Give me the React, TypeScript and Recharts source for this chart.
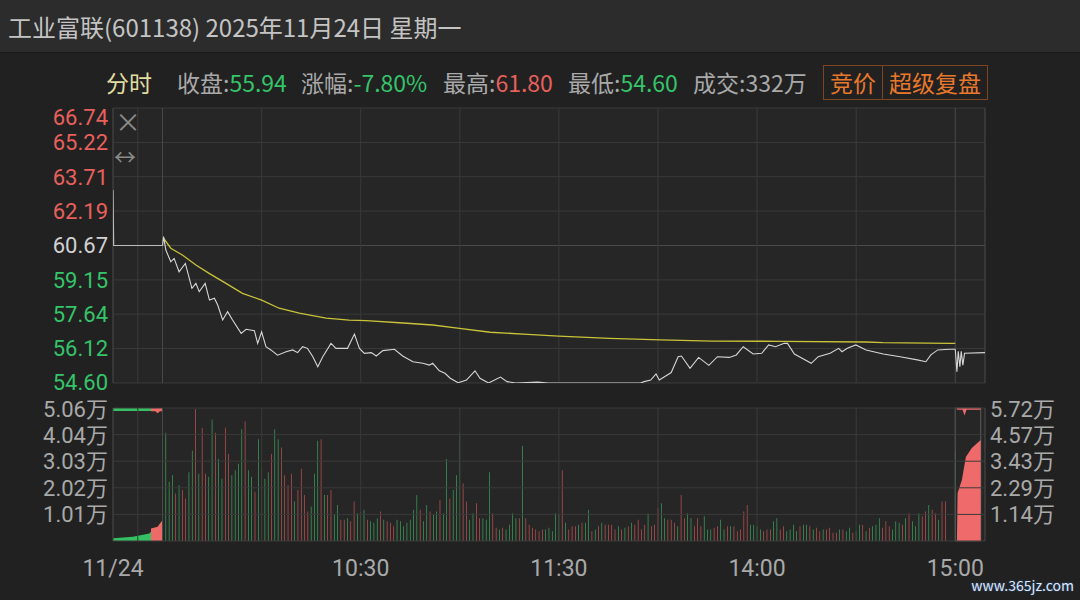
import React from "react";
import {
  ComposedChart,
  Line,
  Bar,
  Area,
  Cell,
  XAxis,
  YAxis,
  ReferenceLine,
  ReferenceArea,
} from "recharts";

const FONT = '"Noto Sans CJK SC", "Noto Sans", sans-serif';
const AXIS_FAMILY = 'Roboto, "Noto Sans CJK SC", sans-serif';
const AXIS_FONT = 22;
const BG = "#212121";
const PLOT_BG = "#262626";
const GRID = "#3a3a3a";
const GRID_HI = "#4a4a4a";
const RED = "#e8605c";
const GREEN = "#35c46a";
const NEUTRAL = "#d2d2d2";
const LABEL = "#a9a9a9";
const BAR_RED = "#e25b5b";
const BAR_GREEN = "#3dbb66";

// minute index: 0 = 9:30, 120 = 11:30 / 13:00, 240 = 15:00
// -15..0 is the opening call auction, 240..249 the closing call auction
const X_DOMAIN: [number, number] = [-15, 249];
const timeTicks = [-15, 60, 120, 180, 240];
const timeLabels = ["11/24", "10:30", "11:30", "14:00", "15:00"];
const gridMinutes = [-7.5, 30, 60, 90, 120, 150, 180, 210];
const sessionEdges = [-15, 0, 240, 249];

const prevClose = 60.67;
const priceTicks = [54.6, 56.12, 57.64, 59.15, 60.67, 62.19, 63.71, 65.22, 66.74];
const pctTicks = [-10, -7.5, -5, -2.5, 0, 2.5, 5, 7.5, 10];

const priceMin = [
  0, 0.3, 1, 2.5, 3.5, 5, 6.9, 8.9, 10.1, 11.1,
  12.9, 14.2, 15.7, 16.7, 18.2, 19.7, 21.2, 23.8, 25.3, 27.8,
  28.8, 30, 31.3, 32.8, 34.8, 37.4, 39.4, 40.9, 42.4, 43.9,
  45.5, 47, 48.5, 51, 52.5, 56, 58.1, 59.6, 61.1, 63.2,
  64.7, 66.7, 70.2, 72.7, 75.8, 78.8, 80.8, 81.8, 83.8, 85.5,
  87.1, 89.5, 92, 94.6, 96.1, 98.7, 102.3, 104.3, 106.9, 113.6,
  116.7, 144.7, 145.8, 147.8, 149.4, 150.4, 154, 156.1, 157.1, 159.7,
  162.3, 165.4, 168, 171.6, 173.7, 175.8, 178.8, 181.4, 183.5, 185.6,
  188.2, 189.2, 191.3, 196.4, 198.5, 202.1, 204.7, 205.7, 207.3, 209.9,
  213, 218.2, 223.3, 228.5, 231.1, 232.6, 234.7, 238.3, 240,
];
const priceVal = [
  60.67, 61.06, 60.47, 59.95, 60.1, 59.51, 59.88, 58.78, 59.0, 58.63,
  59.0, 58.26, 58.34, 58.04, 57.38, 57.75, 57.38, 56.79, 56.97, 56.91,
  56.35, 56.86, 56.2, 56.06, 55.83, 55.98, 56.06, 55.94, 56.2, 56.13,
  55.76, 55.32, 55.76, 56.35, 56.13, 56.13, 56.76, 56.13, 55.91, 55.94,
  55.79, 56.03, 56.09, 55.79, 55.54, 55.47, 55.39, 55.47, 55.14, 55.03,
  54.81, 54.61, 54.73, 55.14, 54.81, 54.6, 54.86, 54.66, 54.6, 54.64,
  54.6, 54.6, 54.66, 54.73, 55.0, 54.73, 55.06, 55.76, 55.79, 55.25,
  55.73, 55.38, 55.76, 55.73, 55.84, 56.2, 55.88, 55.91, 56.28, 56.2,
  56.35, 56.35, 55.88, 55.47, 55.76, 55.91, 56.13, 55.98, 56.13, 56.28,
  56.06, 55.88, 55.76, 55.62, 55.54, 55.84, 56.06, 56.09, 56.09,
];

const avgMin = [
  0.3, 2.5, 6, 10.1, 14.1, 19.2, 24.2, 30, 35.3, 41.4, 49.5, 56.5, 61.6, 71.7,
  81.8, 89.9, 99.2, 110.5, 119.9, 135.3, 150.8, 166.4, 187.1, 212.9, 218.1, 238.4, 240,
];
const avgVal = [
  60.99, 60.55, 60.25, 59.81, 59.44, 59.0, 58.56, 58.26, 57.9, 57.68, 57.46, 57.38, 57.35, 57.26,
  57.16, 57.01, 56.84, 56.75, 56.67, 56.57, 56.5, 56.45, 56.44, 56.41, 56.38, 56.35, 56.35,
];

const openAucMin = [-15, -14.8, 0];
const openAucPrice = [63.12, 60.67, 60.67];
const closeAucMin = [240, 240.5, 240.9, 241.4, 241.8, 242.3, 242.8, 249];
const closeAucPrice = [56.09, 55.1, 56.0, 55.32, 56.0, 55.39, 55.91, 55.94];

// volume, in 万 shares, one bar per minute from 9:31 (m=1) to 15:00 (m=240)
const vol = [
  4.12, 2.25, 2.5, 1.81, 2.12, 1.94, 1.62, 2.62, 3.43, 5.02,
  2.56, 4.31, 2.56, 2.44, 4.62, 4.12, 3.12, 2.37, 4.31, 3.31,
  2.5, 2.69, 2.94, 4.25, 4.56, 2.69, 2.44, 1.87, 3.87, 2.81,
  2.37, 2.62, 3.31, 4.25, 3.87, 3.56, 2.5, 2.12, 2.56, 1.5,
  1.94, 2.75, 1.75, 1.12, 1.31, 2.56, 3.81, 3.87, 1.75, 1.75,
  1.94, 1.0, 1.37, 0.81, 0.81, 0.87, 0.75, 1.5, 1.06, 1.12,
  1.19, 0.81, 0.75, 0.69, 0.87, 1.12, 0.81, 0.75, 0.69, 0.56,
  0.81, 0.75, 0.56, 0.69, 0.81, 1.19, 1.75, 1.19, 0.75, 1.37,
  1.12, 1.0, 1.12, 1.56, 1.06, 3.12, 1.62, 1.94, 2.5, 4.12,
  2.19, 1.5, 0.81, 1.06, 1.44, 0.87, 0.87, 0.81, 2.62, 1.06,
  0.5, 0.44, 0.5, 0.44, 0.62, 1.06, 0.87, 0.87, 3.62, 0.87,
  0.62, 0.5, 0.44, 0.37, 0.44, 0.44, 0.5, 0.37, 1.06, 1.0,
  2.69, 0.69, 0.44, 0.56, 0.56, 0.62, 0.69, 0.69, 1.19, 0.37,
  0.44, 0.56, 0.69, 0.62, 0.62, 0.62, 0.44, 0.56, 0.44, 0.5,
  0.56, 0.69, 0.62, 0.81, 0.44, 0.62, 1.06, 0.56, 0.62, 1.25,
  1.44, 0.87, 0.81, 0.81, 0.69, 0.56, 1.75, 0.87, 1.06, 0.87,
  0.56, 0.87, 0.56, 0.94, 0.44, 0.44, 0.5, 0.56, 0.81, 0.44,
  0.56, 0.56, 0.56, 0.37, 0.44, 1.12, 1.37, 0.62, 0.62, 0.56,
  0.44, 0.37, 0.44, 0.44, 0.75, 0.87, 0.44, 0.56, 0.37, 0.44,
  0.62, 0.37, 0.56, 0.62, 0.62, 0.56, 0.44, 0.5, 0.37, 0.44,
  0.44, 0.5, 0.31, 0.31, 0.44, 0.44, 0.37, 0.5, 0.31, 0.37,
  0.62, 0.62, 0.37, 0.5, 0.56, 0.62, 0.87, 0.5, 0.75, 0.56,
  0.44, 0.75, 0.69, 0.62, 0.87, 1.06, 0.75, 0.56, 1.06, 0.94,
  1.12, 1.37, 1.19, 1.06, 0.81, 1.5, 1.5, 0, 0, 3.4,
];
// R = up minute, G = down minute
const volDir = (
  "GGGRGRRGGR" + "GRRGGRGGRR" + "GGGGRGGRGR" + "GGRGGRRRRG" + "RRRRGGGRGR" + "RGGRRGRRGG" +
  "GRGGGRGRRR" + "GGGGGGGRGG" + "RGGRGGRGGG" + "RRGGRRGGGR" + "RGRGGGGRGR" + "RRRRRGGGGG" +
  "RGRRRGRGGR" + "GRGRRRRGRG" + "RGRRRRGRRR" + "GGRRRGRRGG" + "RRRGGGRRGG" + "RGRRRRRGGG" +
  "GRRRGGRRGG" + "GGRGGRGRRG" + "RRRRGRGGRG" + "GRGRGGGRRR" + "GGGRGRGGGR" + "RGRRGRRGGG"
).split("");

// opening auction matched volume (万, left scale)
const openVolMinG = [-15, -9, -4, -3.5];
const openVolG = [0.1, 0.16, 0.29, 0.35];
const openVolMinR = [-3.5, -1.5, 0];
const openVolR = [0.48, 0.54, 0.8];
// opening auction unmatched volume, drawn from the top
const openTopMinG = [-15, -3.5];
const openTopG = [0.11, 0.11];
const openTopMinR = [-3.5, -2.2, -1.5, -0.8, 0];
const openTopR = [0.12, 0.12, 0.2, 0.12, 0.12];
// closing auction (万, right scale)
const closeVolMin = [240.5, 240.7, 242, 243.2, 245, 247.7];
const closeVol = [0, 2.06, 2.62, 3.61, 4.0, 4.34];
const closeTopMin = [240.5, 242.2, 242.8, 243.4, 247.7];
const closeTop = [0.07, 0.07, 0.32, 0.07, 0.07];

const volTicks = [10120, 20240, 30360, 40480, 50600];
const volLabels = ["1.01万", "2.02万", "3.03万", "4.04万", "5.06万"];
const aucVolTicks = [11440, 22880, 34320, 45760, 57200];
const aucVolLabels = ["1.14万", "2.29万", "3.43万", "4.57万", "5.72万"];

type Row = { m: number; [k: string]: number | string };

function buildRows(series: [string, number[], (number | string)[]][]): Row[] {
  const map = new Map<number, Row>();
  series.forEach(([key, xs, ys]) => {
    xs.forEach((m, i) => {
      const row = map.get(m) ?? { m };
      row[key] = ys[i];
      map.set(m, row);
    });
  });
  return Array.from(map.values()).sort((a, b) => a.m - b.m);
}

const wan = (a: number[]) => a.map((v) => v * 10000);
const minutes = vol.map((_, i) => i + 1);

const priceData = buildRows([
  ["price", priceMin, priceVal],
  ["avg", avgMin, avgVal],
  ["oa", openAucMin, openAucPrice],
  ["ca", closeAucMin, closeAucPrice],
]);

const volData = buildRows([
  ["vol", minutes, wan(vol)],
  ["dir", minutes, volDir],
  ["aucG", openVolMinG, wan(openVolG)],
  ["aucR", openVolMinR, wan(openVolR)],
  ["topG", openTopMinG, wan(openTopG)],
  ["topR", openTopMinR, wan(openTopR)],
  ["cVol", closeVolMin, wan(closeVol)],
  ["cTop", closeTopMin, wan(closeTop)],
]);

const tone = (d: number) => (d > 0.001 ? RED : d < -0.001 ? GREEN : NEUTRAL);

// the top label sits just under the top border, the bottom one a hair above it
const edgeShift = (i: number, n: number) => (i === n - 1 ? 9 : i === 0 ? -1 : 0);

function PriceTick(props: any) {
  const v: number = props.payload.value;
  const i = priceTicks.indexOf(v);
  return (
    <text x={108} y={props.y + edgeShift(i, priceTicks.length)} dy="0.36em" textAnchor="end" fontSize={AXIS_FONT} fontFamily={AXIS_FAMILY} fill={tone(v - prevClose)}>
      {v.toFixed(2)}
    </text>
  );
}

function PctTick(props: any) {
  const v: number = props.payload.value;
  const i = pctTicks.indexOf(v);
  return (
    <text x={990} y={props.y + edgeShift(i, pctTicks.length)} dy="0.36em" textAnchor="start" fontSize={AXIS_FONT} fontFamily={AXIS_FAMILY} fill={tone(v)}>
      {Math.abs(v).toFixed(2) + "%"}
    </text>
  );
}

function VolTick(props: any) {
  const i = volTicks.indexOf(props.payload.value);
  return (
    <text x={108} y={props.y + (i === volTicks.length - 1 ? 1 : 0)} dy="0.36em" textAnchor="end" fontSize={AXIS_FONT} fontFamily={AXIS_FAMILY} fill={LABEL}>
      {volLabels[i]}
    </text>
  );
}

function AucVolTick(props: any) {
  const i = aucVolTicks.indexOf(props.payload.value);
  return (
    <text x={990} y={props.y + (i === aucVolTicks.length - 1 ? 1 : 0)} dy="0.36em" textAnchor="start" fontSize={AXIS_FONT} fontFamily={AXIS_FAMILY} fill={LABEL}>
      {aucVolLabels[i]}
    </text>
  );
}

function TimeTick(props: any) {
  const i = timeTicks.indexOf(props.payload.value);
  return (
    <text x={props.x} y={568} dy="0.36em" textAnchor="middle" fontSize={23} fontFamily={AXIS_FAMILY} fill={LABEL}>
      {timeLabels[i]}
    </text>
  );
}

const txt = (left: number, top: number, size: number): React.CSSProperties => ({
  position: "absolute",
  left,
  top,
  fontSize: size,
  lineHeight: "32px",
  whiteSpace: "nowrap",
});

export default function App() {
  return (
    <div style={{ position: "absolute", left: 0, top: 0, width: 1080, height: 600, background: BG, overflow: "hidden", fontFamily: FONT }}>
      <div style={{ position: "absolute", left: 0, top: 0, width: 1080, height: 52, background: "#2c2c2c", borderBottom: "1px solid #191919" }} />
      <div style={{ ...txt(8, 11, 24), color: "#c4c4c4" }}>工业富联(601138) 2025年11月24日 星期一</div>

      <div style={{ ...txt(106, 66, 23), color: "#e2dda2" }}>分时</div>
      <div style={{ ...txt(177, 66, 23), color: LABEL }}>
        收盘:<span style={{ color: GREEN }}>55.94</span>
      </div>
      <div style={{ ...txt(301, 66, 23), color: LABEL }}>
        涨幅:<span style={{ color: GREEN }}>-7.80%</span>
      </div>
      <div style={{ ...txt(443, 66, 23), color: LABEL }}>
        最高:<span style={{ color: RED }}>61.80</span>
      </div>
      <div style={{ ...txt(568, 66, 23), color: LABEL }}>
        最低:<span style={{ color: GREEN }}>54.60</span>
      </div>
      <div style={{ ...txt(693, 66, 23), color: LABEL }}>成交:332万</div>
      <div style={{ position: "absolute", left: 823, top: 65, width: 58, height: 33, border: "1px solid #7e4520", color: "#e8782c", fontSize: 23, lineHeight: "33px", textAlign: "center" }}>竞价</div>
      <div style={{ position: "absolute", left: 882, top: 65, width: 104, height: 33, border: "1px solid #7e4520", color: "#e8782c", fontSize: 23, lineHeight: "33px", textAlign: "center" }}>超级复盘</div>

      <div style={{ position: "absolute", left: 0, top: 0 }}>
        <ComposedChart width={1080} height={400} data={priceData} margin={{ top: 108, right: 0, bottom: 17, left: 0 }}>
          <XAxis dataKey="m" type="number" domain={X_DOMAIN} allowDataOverflow hide />
          <YAxis domain={[54.6, 66.74]} ticks={priceTicks} interval={0} width={113} axisLine={false} tickLine={false} tick={PriceTick} allowDataOverflow />
          <YAxis yAxisId="pct" orientation="right" domain={[-10, 10]} ticks={pctTicks} interval={0} width={95} axisLine={false} tickLine={false} tick={PctTick} />
          <ReferenceArea x1={X_DOMAIN[0]} x2={X_DOMAIN[1]} y1={54.6} y2={66.74} fill={PLOT_BG} fillOpacity={1} stroke="none" />
          {priceTicks.map((v) => (
            <ReferenceLine key={"h" + v} y={v} stroke={v === prevClose ? GRID_HI : GRID} strokeWidth={1} />
          ))}
          {gridMinutes.map((m) => (
            <ReferenceLine key={"v" + m} x={m} stroke={GRID} strokeWidth={1} />
          ))}
          {sessionEdges.map((m) => (
            <ReferenceLine key={"e" + m} x={m} stroke={GRID_HI} strokeWidth={1} />
          ))}
          <Line dataKey="oa" stroke="#bdbdbd" strokeWidth={1.2} dot={false} connectNulls isAnimationActive={false} />
          <Line dataKey="avg" stroke="#c9c23a" strokeWidth={1.3} dot={false} connectNulls isAnimationActive={false} />
          <Line dataKey="price" stroke="#d6d6d6" strokeWidth={1.1} dot={false} connectNulls isAnimationActive={false} />
          <Line dataKey="ca" stroke="#d6d6d6" strokeWidth={1.1} dot={false} connectNulls isAnimationActive={false} />
        </ComposedChart>
      </div>

      <div style={{ position: "absolute", left: 0, top: 0 }}>
        <ComposedChart width={1080} height={600} data={volData} margin={{ top: 408, right: 0, bottom: 0, left: 0 }}>
          <XAxis dataKey="m" type="number" domain={X_DOMAIN} allowDataOverflow ticks={timeTicks} interval={0} height={59} axisLine={false} tickLine={false} tick={TimeTick} />
          <YAxis domain={[0, 50600]} ticks={volTicks} interval={0} width={113} axisLine={false} tickLine={false} tick={VolTick} allowDataOverflow />
          <YAxis yAxisId="vr" orientation="right" domain={[0, 57200]} ticks={aucVolTicks} interval={0} width={95} axisLine={false} tickLine={false} tick={AucVolTick} />
          <YAxis yAxisId="tl" domain={[0, 50600]} reversed hide />
          <YAxis yAxisId="tr" domain={[0, 57200]} reversed hide />
          <ReferenceArea x1={X_DOMAIN[0]} x2={X_DOMAIN[1]} y1={0} y2={50600} fill={PLOT_BG} fillOpacity={1} stroke="none" />
          {[0, ...volTicks].map((v) => (
            <ReferenceLine key={"h" + v} y={v} stroke={GRID} strokeWidth={1} />
          ))}
          {gridMinutes.map((m) => (
            <ReferenceLine key={"v" + m} x={m} stroke={GRID} strokeWidth={1} />
          ))}
          {sessionEdges.map((m) => (
            <ReferenceLine key={"e" + m} x={m} stroke={GRID_HI} strokeWidth={1} />
          ))}
          <ReferenceArea x1={240} x2={247.7} y1={0} y2={50600} fill="none" stroke="#5c5c5c" strokeWidth={1} />
          <Area dataKey="aucG" type="linear" fill="#35c063" fillOpacity={1} stroke="none" connectNulls isAnimationActive={false} />
          <Area dataKey="aucR" type="linear" fill="#ec6a68" fillOpacity={1} stroke="none" connectNulls isAnimationActive={false} />
          <Area yAxisId="tl" dataKey="topG" type="linear" fill="#35c063" fillOpacity={1} stroke="none" connectNulls isAnimationActive={false} />
          <Area yAxisId="tl" dataKey="topR" type="linear" fill="#ec6a68" fillOpacity={1} stroke="none" connectNulls isAnimationActive={false} />
          <Area yAxisId="vr" dataKey="cVol" type="linear" fill="#ef6b6b" fillOpacity={1} stroke="none" connectNulls isAnimationActive={false} />
          <Area yAxisId="tr" dataKey="cTop" type="linear" fill="#ef6b6b" fillOpacity={1} stroke="none" connectNulls isAnimationActive={false} />
          <Bar dataKey="vol" barSize={1.4} isAnimationActive={false}>
            {volData.map((r, i) => (
              <Cell key={i} fill={r.dir === "R" ? BAR_RED : BAR_GREEN} />
            ))}
          </Bar>
        </ComposedChart>
      </div>

      <div style={{ position: "absolute", left: 115, top: 106, fontSize: 26, lineHeight: "30px", color: "#8a8a8a" }}>×</div>
      <div style={{ position: "absolute", left: 114, top: 141, fontSize: 22, lineHeight: "28px", color: "#8a8a8a" }}>↔</div>
      <div style={{ position: "absolute", right: 6, top: 576, fontSize: 14, lineHeight: "18px", color: "#dfe6f2", textShadow: "0 0 2px #2a5aa0" }}>www.365jz.com</div>
    </div>
  );
}
